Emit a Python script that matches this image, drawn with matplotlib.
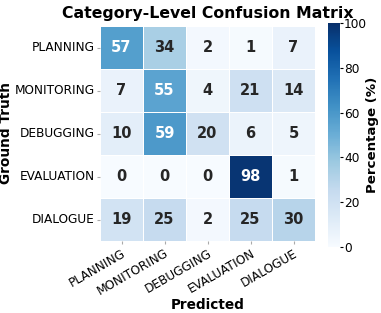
import matplotlib
matplotlib.use("Agg")
import matplotlib.pyplot as plt
import numpy as np
import seaborn as sns

categories = ["PLANNING", "MONITORING", "DEBUGGING", "EVALUATION", "DIALOGUE"]
planning = [57, 34, 2, 1, 7]
monitoring = [7, 55, 4, 21, 14]
debugging = [10, 59, 20, 6, 5]
evaluation = [0, 0, 0, 98, 1]
dialogue = [19, 25, 2, 25, 30]

matrix = np.array([planning, monitoring, debugging, evaluation, dialogue])

W, H = 381, 313
fig = plt.figure(figsize=(W / 100, H / 100), dpi=100)
ax = fig.add_axes([100 / W, 1 - 241 / H, 215 / W, 215 / H])
cax = fig.add_axes([328 / W, 1 - 247 / H, 12 / W, 224 / H])

sns.heatmap(matrix, ax=ax, cbar_ax=cax, cmap="Blues", vmin=0, vmax=100,
            annot=True, fmt="d", linewidths=0.5, linecolor="white",
            annot_kws={"fontsize": 10.5, "fontweight": "bold"},
            xticklabels=categories, yticklabels=categories)

ax.set_title("Category-Level Confusion Matrix", fontsize=11.3, fontweight="bold", pad=6)
ax.set_xlabel("Predicted", fontsize=9.8, fontweight="bold", labelpad=0)
ax.set_ylabel("Ground Truth", fontsize=9.8, fontweight="bold", labelpad=1)
ax.tick_params(axis="both", labelsize=8.7, length=2.5, color="#aaaaaa", pad=1.5)
plt.setp(ax.get_xticklabels(), rotation=30, ha="right", rotation_mode="anchor")
plt.setp(ax.get_yticklabels(), rotation=0)

cax.tick_params(labelsize=8.7, length=2, pad=1)
cax.set_ylabel("Percentage (%)", fontsize=9.6, fontweight="bold", labelpad=-1)
cax.set_yticks([0, 20, 40, 60, 80, 100])
for s in cax.spines.values():
    s.set_visible(False)

fig.savefig("out.png", dpi=100)
